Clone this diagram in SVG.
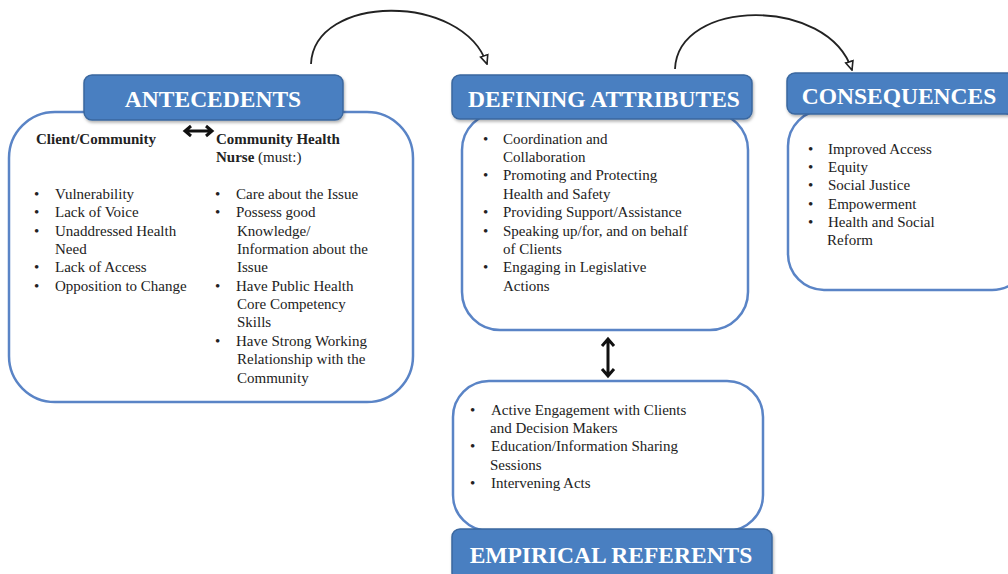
<svg xmlns="http://www.w3.org/2000/svg" width="1008" height="574" viewBox="0 0 1008 574">
  <style>
    .panel { fill: #ffffff; stroke: #5a84c6; stroke-width: 2.5; }
    .head { fill: #4a7fc1; stroke: #3a679f; stroke-width: 1.5; }
    .htxt { font-family: "Liberation Serif", serif; font-weight: bold; font-size: 23.5px; fill: #ffffff; text-anchor: middle; }
    .txt { font-family: "Liberation Serif", serif; font-size: 15px; fill: #222222; }
    .bold { font-weight: bold; }
    .conn { fill: none; stroke: #222222; stroke-width: 1.8; }
    .dbl { fill: none; stroke: #111111; stroke-width: 3; stroke-linejoin: miter; }
  </style>
  <defs>
    <filter id="shadow" x="-5%" y="-10%" width="110%" height="130%">
      <feDropShadow dx="1" dy="2" stdDeviation="1.5" flood-color="#000000" flood-opacity="0.3"/>
    </filter>
    <marker id="open-head" viewBox="0 0 10 10" refX="9" refY="5" markerWidth="6" markerHeight="6" orient="auto">
      <path d="M1,1.5 L9,5 L1,8.5 Z" fill="#ffffff" stroke="#222222" stroke-width="1.5"/>
    </marker>
  </defs>

  <!-- antecedents -->
  <g id="antecedents">
    <rect class="panel" x="9" y="112" width="404" height="290" rx="46" ry="46"/>
    <rect class="head" x="84" y="75" width="259" height="45" rx="8" filter="url(#shadow)"/>
    <text class="htxt" x="213" y="107">ANTECEDENTS</text>
    <text class="txt bold" x="36" y="144">Client/Community</text>
    <text class="txt bold" x="216" y="144">Community Health</text>
    <text class="txt" x="216" y="162"><tspan class="bold">Nurse</tspan> (must:)</text>
    <g class="txt">
      <text x="34" y="199">•</text><text x="55" y="199">Vulnerability</text>
      <text x="34" y="217">•</text><text x="55" y="217">Lack of Voice</text>
      <text x="34" y="236">•</text><text x="55" y="236">Unaddressed Health</text>
      <text x="55" y="254">Need</text>
      <text x="34" y="272">•</text><text x="55" y="272">Lack of Access</text>
      <text x="34" y="291">•</text><text x="55" y="291">Opposition to Change</text>

      <text x="215" y="199">•</text><text x="236" y="199">Care about the Issue</text>
      <text x="215" y="217">•</text><text x="236" y="217">Possess good</text>
      <text x="237" y="236">Knowledge/</text>
      <text x="237" y="254">Information about the</text>
      <text x="237" y="272">Issue</text>
      <text x="215" y="291">•</text><text x="236" y="291">Have Public Health</text>
      <text x="237" y="309">Core Competency</text>
      <text x="237" y="327">Skills</text>
      <text x="215" y="346">•</text><text x="236" y="346">Have Strong Working</text>
      <text x="237" y="364">Relationship with the</text>
      <text x="237" y="383">Community</text>
    </g>
  </g>

  <!-- defining attributes -->
  <g id="defining-attributes">
    <rect class="panel" x="462" y="112" width="286" height="218" rx="38" ry="38"/>
    <rect class="head" x="452" y="75" width="300" height="44" rx="8" filter="url(#shadow)"/>
    <text class="htxt" x="604" y="107">DEFINING ATTRIBUTES</text>
    <g class="txt">
      <text x="483" y="144">•</text><text x="503" y="144">Coordination and</text>
      <text x="503" y="162">Collaboration</text>
      <text x="483" y="180">•</text><text x="503" y="180">Promoting and Protecting</text>
      <text x="503" y="199">Health and Safety</text>
      <text x="483" y="217">•</text><text x="503" y="217">Providing Support/Assistance</text>
      <text x="483" y="236">•</text><text x="503" y="236">Speaking up/for, and on behalf</text>
      <text x="503" y="254">of Clients</text>
      <text x="483" y="272">•</text><text x="503" y="272">Engaging in Legislative</text>
      <text x="503" y="291">Actions</text>
    </g>
  </g>

  <!-- consequences -->
  <g id="consequences">
    <rect class="panel" x="788" y="110" width="240" height="180" rx="36" ry="36"/>
    <rect class="head" x="787" y="73" width="230" height="41" rx="8" filter="url(#shadow)"/>
    <text class="htxt" x="899" y="104">CONSEQUENCES</text>
    <g class="txt">
      <text x="808" y="154">•</text><text x="828" y="154">Improved Access</text>
      <text x="808" y="172">•</text><text x="828" y="172">Equity</text>
      <text x="808" y="190">•</text><text x="828" y="190">Social Justice</text>
      <text x="808" y="209">•</text><text x="828" y="209">Empowerment</text>
      <text x="808" y="227">•</text><text x="828" y="227">Health and Social</text>
      <text x="827" y="245">Reform</text>
    </g>
  </g>

  <!-- empirical referents -->
  <g id="empirical-referents">
    <rect class="panel" x="453" y="381" width="310" height="150" rx="36" ry="36"/>
    <rect class="head" x="452" y="529" width="320" height="52" rx="8" filter="url(#shadow)"/>
    <text class="htxt" x="611" y="563">EMPIRICAL REFERENTS</text>
    <g class="txt">
      <text x="470" y="415">•</text><text x="491" y="415">Active Engagement with Clients</text>
      <text x="490" y="433">and Decision Makers</text>
      <text x="470" y="451">•</text><text x="491" y="451">Education/Information Sharing</text>
      <text x="490" y="470">Sessions</text>
      <text x="470" y="488">•</text><text x="491" y="488">Intervening Acts</text>
    </g>
  </g>

  <!-- connectors, drawn last so they sit above the panels -->
  <g id="connectors">
    <path class="conn" d="M311,64 C314,-6 462,-8 487,64" marker-end="url(#open-head)"/>
    <path class="conn" d="M675,69 C678,-2 828,-4 852,70" marker-end="url(#open-head)"/>
    <!-- two-way arrow: defining attributes / empirical referents -->
    <path class="dbl" d="M608,340 L608,375 M602,346 L608,339 L614,346 M602,369 L608,376 L614,369"/>
    <!-- two-way arrow: client / nurse -->
    <path class="dbl" d="M186,131 L211,131 M191,126 L185,131 L191,136 M206,126 L212,131 L206,136"/>
  </g>
</svg>
